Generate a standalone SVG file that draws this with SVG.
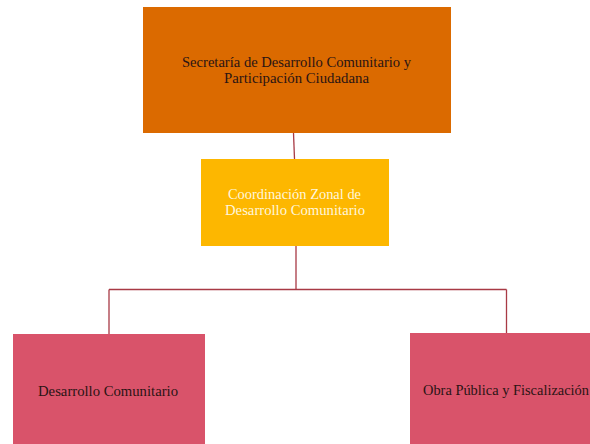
<svg xmlns="http://www.w3.org/2000/svg" width="590" height="444" viewBox="0 0 590 444">
  <style>
    .lbl { font-family: "Liberation Serif", "DejaVu Serif", serif; font-size: 14.5px; }
    .dark { fill: #2a1414; }
    .light { fill: #fff6dc; }
    .link { fill: none; stroke: #a83a45; stroke-width: 1.3; }
  </style>
  <rect width="590" height="444" fill="#ffffff"/>
  <g id="connectors">
    <path class="link" d="M293.5 133 L294.5 159"/>
    <path class="link" d="M296 246 L296 289.5 M109 289.5 L506.5 289.5 M109 289.5 L109 335 M506.5 289.5 L506.5 334"/>
  </g>
  <g id="secretaria">
    <rect x="143" y="7" width="308" height="126" fill="#db6a00"/>
    <text class="lbl dark" x="182" y="67" textLength="229" lengthAdjust="spacingAndGlyphs">Secretaría de Desarrollo Comunitario y</text>
    <text class="lbl dark" x="224" y="83" textLength="145" lengthAdjust="spacingAndGlyphs">Participación Ciudadana</text>
  </g>
  <g id="coordinacion">
    <rect x="201" y="159" width="188" height="87" fill="#fdb700"/>
    <text class="lbl light" x="228" y="199" textLength="133" lengthAdjust="spacingAndGlyphs">Coordinación Zonal de</text>
    <text class="lbl light" x="225" y="215" textLength="140" lengthAdjust="spacingAndGlyphs">Desarrollo Comunitario</text>
  </g>
  <g id="desarrollo">
    <rect x="13" y="334" width="192" height="110" fill="#d9536a"/>
    <text class="lbl dark" x="38" y="396" textLength="140" lengthAdjust="spacingAndGlyphs">Desarrollo Comunitario</text>
  </g>
  <g id="obra">
    <rect x="410" y="333" width="180" height="111" fill="#d9536a"/>
    <text class="lbl dark" x="423" y="395" textLength="166" lengthAdjust="spacingAndGlyphs">Obra Pública y Fiscalización</text>
  </g>
</svg>
